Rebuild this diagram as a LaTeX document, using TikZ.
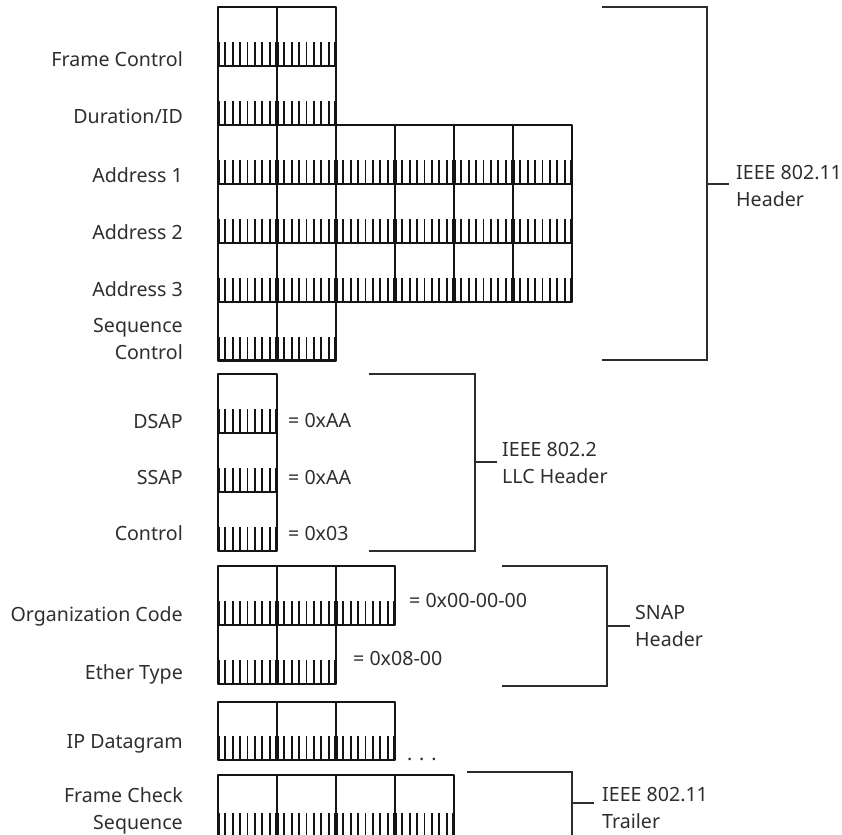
\documentclass[tikz,border=0pt]{standalone}
\usepackage{fontspec}
\setmainfont{Noto Sans}
\definecolor{ink}{HTML}{141414}
\definecolor{txt}{HTML}{2E2E2E}
\tikzset{
  bytebox/.style={draw=ink, line width=2.2pt, line join=round},
  bit/.style={draw=ink, line width=1.9pt},
  brace/.style={draw=ink!90, line width=2pt},
  lbl/.style={text=txt, inner sep=0pt, font=\fontsize{19.6}{26.5}\selectfont},
}
% one row of byte cells, each with eight bit marks along its lower edge
\newcommand\byterow[3]{% #1 top, #2 bottom, #3 number of bytes
  \foreach \k in {1,...,#3}{
    \pgfmathsetmacro\xl{218+(\k-1)*59}
    \draw[bytebox] (\xl,#1) rectangle (\xl+59,#2);
    \draw[bit] (\xl+1.4,#2) -- ++(0,-24);
    \draw[bit] (\xl+57.6,#2) -- ++(0,-24);
    \foreach \t in {1,...,7}{\draw[bit] (\xl+\t*7.375,#2) -- ++(0,-24);}
  }
}
\begin{document}
\begin{tikzpicture}[x=1pt,y=-1pt]
\useasboundingbox (0,0) rectangle (842,834);
\clip (0,0) rectangle (842,834);

% IEEE 802.11 header fields
\byterow{7}{66}{2}
\byterow{66}{125}{2}
\byterow{125}{184}{6}
\byterow{184}{243}{6}
\byterow{243}{302}{6}
\byterow{302}{360.5}{2}

\node[lbl, anchor=base east] (fc) at (183,67) {Frame Control};
\node[lbl, anchor=base east] (dur) at (183,124) {Duration/ID};
\node[lbl, anchor=base east] (a1) at (183,183) {Address 1};
\node[lbl, anchor=base east] (a2) at (183,240) {Address 2};
\node[lbl, anchor=base east] (a3) at (183,296) {Address 3};
\node[lbl, anchor=east, align=right] (sc) at (183,339) {Sequence\\Control};

\coordinate (h1) at (602,7);
\coordinate (h2) at (707,7);
\coordinate (h3) at (707,359.5);
\coordinate (h4) at (602,359.5);
\coordinate (hm) at (707,184);
\coordinate (ht) at (729,184);
\draw[brace] (h1) -- (h2) -- (h3) -- (h4);
\draw[brace] (hm) -- (ht);
\node[lbl, anchor=west, align=left] (hdr) at (736,186) {IEEE 802.11\\Header};

% IEEE 802.2 LLC header
\byterow{374}{433}{1}
\byterow{433}{492}{1}
\byterow{492}{551}{1}
\node[lbl, anchor=base east] (dsap) at (183,428) {DSAP};
\node[lbl, anchor=base east] (ssap) at (183,484) {SSAP};
\node[lbl, anchor=base east] (ctl) at (183,540) {Control};
\node[lbl, anchor=base west] (v1) at (288,427) {= 0xAA};
\node[lbl, anchor=base west] (v2) at (288,484) {= 0xAA};
\node[lbl, anchor=base west] (v3) at (288,540) {= 0x03};

\coordinate (l1) at (369,374);
\coordinate (l2) at (475,374);
\coordinate (l3) at (475,550.5);
\coordinate (l4) at (369,550.5);
\coordinate (lm) at (475,462);
\coordinate (lt) at (497,462);
\draw[brace] (l1) -- (l2) -- (l3) -- (l4);
\draw[brace] (lm) -- (lt);
\node[lbl, anchor=west, align=left] (llc) at (502,463) {IEEE 802.2\\LLC Header};

% SNAP header
\byterow{566}{625}{3}
\byterow{625}{684}{2}
\node[lbl, anchor=base east] (org) at (183,621) {Organization Code};
\node[lbl, anchor=base east] (eth) at (183,679) {Ether Type};
\node[lbl, anchor=base west] (v4) at (409,607) {= 0x00-00-00};
\node[lbl, anchor=base west] (v5) at (353,665) {= 0x08-00};

\coordinate (s1) at (502,566);
\coordinate (s2) at (607,566);
\coordinate (s3) at (607,685.5);
\coordinate (s4) at (502,685.5);
\coordinate (sm) at (607,626);
\coordinate (st) at (630,626);
\draw[brace] (s1) -- (s2) -- (s3) -- (s4);
\draw[brace] (sm) -- (st);
\node[lbl, anchor=west, align=left] (snap) at (635,626) {SNAP\\Header};

% payload
\byterow{702}{760}{3}
\node[lbl, anchor=base east] (ip) at (183,748) {IP Datagram};
\node[lbl, anchor=base west] (dots) at (407,760) {. . .};

% IEEE 802.11 trailer
\byterow{775}{837}{4}
\node[lbl, anchor=east, align=right] (fcs) at (183,811) {Frame Check\\Sequence};

\coordinate (t1) at (467,772);
\coordinate (t2) at (572,772);
\coordinate (t3) at (572,840);
\coordinate (tm) at (572,803);
\coordinate (tt) at (594,803);
\draw[brace] (t1) -- (t2) -- (t3);
\draw[brace] (tm) -- (tt);
\node[lbl, anchor=west, align=left] (trl) at (602,808) {IEEE 802.11\\Trailer};
\end{tikzpicture}
\end{document}
